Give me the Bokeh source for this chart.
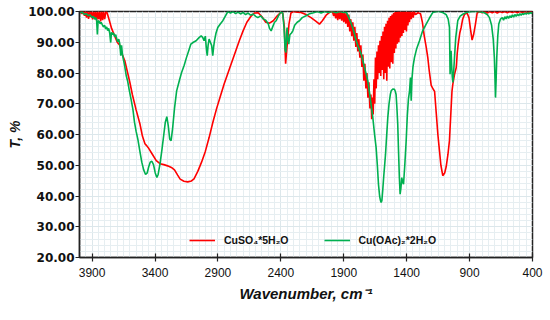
from bokeh.plotting import figure
from bokeh.models import Range1d, FixedTicker, SingleIntervalTicker, PrintfTickFormatter, Legend, LegendItem
from bokeh.embed import file_html
from bokeh.resources import INLINE

# ---- data ----
red_w = [4000, 3990, 3980, 3970, 3960, 3952, 3944, 3936, 3928, 3920, 3912, 3904, 3896, 3888, 3880, 3872,
         3864, 3856, 3848, 3840, 3832, 3824, 3816, 3808, 3800, 3790, 3780, 3765, 3745, 3720, 3700, 3680,
         3660, 3640, 3620, 3600, 3580, 3550, 3520, 3500, 3480, 3465, 3450, 3420, 3390, 3360, 3330, 3300,
         3270, 3245, 3220, 3200, 3170, 3140, 3110, 3090, 3060, 3030, 3000, 2970, 2940, 2910, 2880, 2850,
         2820, 2790, 2760, 2730, 2700, 2670, 2640, 2610, 2580, 2550, 2520, 2490, 2460, 2430, 2400, 2385,
         2372, 2362, 2352, 2345, 2335, 2320, 2300, 2270, 2240, 2200, 2160, 2120, 2093, 2070, 2040, 2010,
         1990, 1980, 1972, 1964, 1956, 1948, 1940, 1932, 1924, 1916, 1908, 1900, 1892, 1884, 1876, 1868,
         1860, 1852, 1844, 1836, 1828, 1820, 1812, 1804, 1796, 1788, 1780, 1772, 1764, 1756, 1748, 1740,
         1732, 1724, 1716, 1708, 1700, 1692, 1684, 1678, 1672, 1666, 1660, 1654, 1648, 1642, 1636, 1630,
         1624, 1618, 1612, 1606, 1600, 1594, 1588, 1582, 1576, 1570, 1564, 1558, 1552, 1546, 1540, 1534,
         1528, 1522, 1516, 1510, 1504, 1498, 1492, 1486, 1480, 1474, 1468, 1462, 1456, 1450, 1444, 1438,
         1432, 1426, 1420, 1414, 1408, 1402, 1396, 1390, 1384, 1378, 1372, 1364, 1356, 1348, 1340, 1330,
         1310, 1290, 1275, 1260, 1245, 1232, 1220, 1205, 1190, 1178, 1165, 1152, 1140, 1128, 1113, 1098,
         1086, 1072, 1060, 1050, 1040, 1033, 1020, 1006, 998, 990, 978, 967, 955, 940, 920, 905,
         892, 880, 868, 855, 840, 820, 800, 780, 760, 740, 720, 700, 680, 660, 640, 620,
         600, 580, 560, 540, 520, 500, 480, 460, 440, 420, 400]
red_t = [99.5, 100, 99.2, 100, 98.6, 100, 98.0, 100, 97.6, 100, 98.2, 100, 97.4, 100, 97.8, 100,
         97.0, 100, 97.5, 100, 96.8, 100, 97.2, 100, 97.5, 100, 99.5, 97.4, 94.5, 92.0, 90.0, 89.0,
         86.0, 84.0, 80.5, 77.0, 73.0, 68.0, 63.5, 59.5, 57.0, 56.3, 55.5, 53.5, 51.5, 50.5, 50.2, 49.8,
         49.3, 48.5, 46.8, 45.5, 44.8, 44.6, 44.9, 45.6, 48.0, 51.0, 54.5, 59.0, 64.0, 68.5, 72.5, 76.5,
         80.0, 83.5, 87.0, 90.5, 93.7, 96.5, 98.3, 99.5, 99.6, 98.3, 96.5, 96.2, 97.0, 98.5, 99.7, 99.5,
         95.0, 83.0, 88.0, 91.0, 96.0, 99.5, 100, 99.8, 99.7, 99.0, 98.0, 96.8, 95.9, 97.0, 98.8, 99.8,
         100, 98.5, 100, 97.8, 100, 97.2, 100, 97.5, 100, 97.0, 100, 96.5, 100, 96.0, 99.5, 95.0,
         99.0, 93.5, 97.5, 92.0, 96.5, 90.5, 95.0, 88.5, 93.0, 87.0, 91.0, 85.0, 89.0, 82.0, 86.0, 77.5,
         83.0, 75.0, 80.0, 72.0, 77.0, 68.5, 73.0, 65.0, 72.0, 66.5, 78.0, 70.0, 85.0, 75.0, 87.0, 78.0,
         89.0, 80.0, 90.5, 79.0, 92.0, 81.0, 93.5, 78.0, 95.0, 80.0, 96.0, 77.5, 97.0, 82.0, 98.0, 81.5,
         98.5, 83.5, 99.0, 83.0, 99.5, 86.5, 99.8, 88.0, 99.8, 89.5, 100, 90.0, 100, 91.5, 100, 92.0,
         100, 93.0, 100, 94.0, 100, 93.5, 100, 95.5, 100, 96.5, 100, 97.5, 100, 98.0, 100, 99.0,
         99.6, 99.3, 96.5, 92.0, 88.5, 85.0, 80.5, 76.0, 74.8, 74.0, 67.0, 60.0, 55.0, 50.0, 46.6, 47.5,
         49.5, 53.5, 58.0, 66.0, 74.0, 76.4, 79.5, 81.8, 86.5, 89.5, 93.0, 94.8, 97.5, 99.1, 99.5, 98.0,
         94.0, 90.7, 92.5, 95.5, 99.5, 100, 99.6, 100, 99.5, 100, 99.6, 100, 99.5, 100, 99.7, 100,
         99.6, 100, 99.7, 100, 99.6, 100, 99.7, 100, 99.6, 100, 99.8]

green_w = [4000, 3980, 3960, 3945, 3930, 3915, 3900, 3890, 3880, 3872, 3864, 3858, 3852, 3844, 3836, 3828,
           3820, 3810, 3800, 3792, 3784, 3776, 3768, 3760, 3752, 3746, 3738, 3730, 3720, 3712, 3704, 3696,
           3688, 3680, 3672, 3666, 3660, 3652, 3644, 3636, 3628, 3618, 3605, 3590, 3575, 3563, 3550, 3536,
           3520, 3505, 3490, 3475, 3462, 3450, 3438, 3425, 3412, 3398, 3385, 3375, 3360, 3345, 3330, 3318,
           3306, 3295, 3283, 3272, 3260, 3245, 3228, 3210, 3190, 3168, 3150, 3130, 3115, 3095, 3073, 3050,
           3033, 3020, 3010, 3000, 2992, 2985, 2978, 2970, 2960, 2950, 2941, 2934, 2927, 2915, 2901, 2880,
           2861, 2840, 2821, 2800, 2780, 2760, 2740, 2720, 2700, 2680, 2660, 2640, 2620, 2600, 2583, 2560,
           2540, 2520, 2500, 2490, 2477, 2465, 2450, 2437, 2420, 2400, 2385, 2375, 2366, 2360, 2354, 2350,
           2344, 2337, 2328, 2315, 2305, 2290, 2270, 2252, 2230, 2200, 2170, 2140, 2110, 2080, 2050, 2020,
           1990, 1960, 1930, 1900, 1880, 1860, 1840, 1820, 1801, 1780, 1760, 1748, 1730, 1709, 1690, 1669,
           1655, 1643, 1633, 1624, 1615, 1608, 1603, 1597, 1590, 1582, 1575, 1568, 1560, 1550, 1540, 1530,
           1523, 1510, 1497, 1490, 1484, 1478, 1471, 1465, 1458, 1452, 1446, 1439, 1432, 1425, 1415, 1404,
           1395, 1386, 1377, 1370, 1364, 1358, 1350, 1338, 1320, 1298, 1275, 1245, 1220, 1192, 1160, 1140,
           1110, 1086, 1070, 1060, 1057, 1055, 1051, 1047, 1043, 1038, 1033, 1027, 1020, 1010, 994, 975,
           954, 920, 880, 840, 800, 780, 760, 742, 725, 712, 703, 698, 694, 689, 684, 676,
           668, 655, 640, 630, 620, 610, 600, 590, 580, 570, 560, 550, 540, 530, 520, 510,
           500, 490, 480, 470, 460, 450, 440, 430, 420, 410, 400]
green_t = [99.6, 99.8, 99.0, 99.3, 98.6, 98.9, 98.0, 98.4, 97.5, 98.0, 97.2, 92.5, 97.0, 96.8, 96.0, 96.5,
           95.8, 95.0, 95.5, 94.3, 95.0, 93.8, 94.5, 93.0, 89.9, 93.2, 92.5, 93.0, 91.8, 92.5, 91.0, 90.2,
           91.0, 89.5, 85.6, 89.0, 86.5, 84.5, 83.0, 81.0, 79.0, 77.5, 74.5, 71.4, 68.0, 64.0, 61.0, 58.4,
           54.5, 51.0, 48.5, 47.0, 47.5, 49.5, 51.0, 51.3, 50.2, 47.5, 46.0, 47.0, 50.5, 55.0, 60.0, 64.0,
           65.8, 63.0, 58.5, 58.0, 62.0, 68.5, 74.2, 77.0, 80.0, 82.5, 85.0, 87.5, 89.4, 90.0, 90.5, 91.5,
           92.1, 91.5, 90.5, 92.0, 88.0, 85.6, 89.0, 91.0, 90.0, 89.0, 85.6, 88.5, 90.5, 93.0, 94.8, 96.0,
           97.0, 98.6, 100, 99.5, 100, 99.3, 99.8, 99.2, 99.7, 99.0, 99.5, 98.8, 99.2, 98.4, 98.0, 98.6,
           97.6, 97.2, 96.0, 94.5, 93.7, 95.0, 96.5, 97.0, 98.5, 99.8, 99.5, 95.0, 87.5, 86.7, 93.5, 94.8,
           91.0, 89.4, 92.5, 93.0, 93.7, 95.5, 96.5, 97.0, 98.0, 98.6, 99.3, 99.6, 100, 99.5, 100, 99.7,
           100, 99.6, 100, 99.7, 99.8, 98.0, 96.0, 93.5, 90.5, 88.0, 86.0, 84.0, 81.0, 77.5, 72.0, 65.5,
           60.0, 55.8, 50.0, 43.8, 40.0, 38.5, 37.9, 38.5, 42.0, 46.5, 50.0, 53.6, 59.0, 65.5, 70.0, 73.0,
           74.2, 74.8, 74.7, 74.0, 73.0, 69.0, 63.4, 55.0, 46.0, 40.6, 42.5, 46.0, 44.5, 43.8, 50.0, 57.9,
           66.0, 71.5, 74.2, 78.5, 71.0, 78.0, 82.0, 85.0, 88.0, 90.5, 93.5, 95.9, 97.8, 99.7, 100, 100,
           99.6, 99.0, 97.5, 94.8, 86.0, 79.6, 83.0, 87.2, 83.0, 79.0, 76.9, 80.0, 85.0, 91.5, 97.0, 98.5,
           99.1, 99.8, 100, 100, 99.8, 99.5, 99.0, 98.0, 95.5, 91.0, 85.0, 78.0, 72.0, 78.0, 85.0, 92.0,
           95.9, 97.5, 98.0, 97.2, 98.3, 97.6, 98.5, 97.8, 98.6, 98.0, 98.9, 98.2, 99.0, 98.4, 99.1, 98.6,
           99.3, 98.8, 99.4, 99.0, 99.5, 99.1, 99.6, 99.2, 99.7, 99.4, 99.7]

x_ticks = [3900, 3400, 2900, 2400, 1900, 1400, 900, 400]
labels = ["CuSO\u2084*5H\u2082O", "Cu(OAc)\u2082*2H\u2082O"]

RED = "#FF0000"
GREEN = "#00B050"

p = figure(width=548, height=318, output_backend="svg", toolbar_location=None,
           x_range=Range1d(4000, 400), y_range=Range1d(20, 100),
           min_border_left=79, min_border_right=16, min_border_top=11, min_border_bottom=61)
p.background_fill_color = "#FFFFFF"
p.border_fill_color = "#FFFFFF"
p.outline_line_color = "#222222"
p.outline_line_width = 1.5

p.xaxis.ticker = FixedTicker(ticks=x_ticks, minor_ticks=list(range(400, 4001, 50)))
p.yaxis.ticker = SingleIntervalTicker(interval=10, num_minor_ticks=5)
p.yaxis.formatter = PrintfTickFormatter(format="%.2f")

for g in (p.xgrid, p.ygrid):
    g.grid_line_color = "#DCE7EB"
    g.grid_line_width = 1
    g.minor_grid_line_color = "#E6EEF1"
    g.minor_grid_line_width = 1

for ax in (p.xaxis, p.yaxis):
    ax.axis_line_color = "#222222"
    ax.axis_line_width = 1.5
    ax.major_tick_line_color = "#222222"
    ax.major_tick_line_width = 1.2
    ax.minor_tick_line_color = None
    ax.axis_label_text_font = "Liberation Sans"
    ax.axis_label_text_font_style = "bold italic"
    ax.axis_label_text_color = "#111111"

p.xaxis.major_tick_in = 4
p.xaxis.major_tick_out = 4
p.xaxis.major_label_text_font = "Liberation Sans"
p.xaxis.major_label_text_font_size = "12px"
p.xaxis.major_label_text_color = "#111111"
p.xaxis.major_label_standoff = 6
p.xaxis.axis_label = "Wavenumber, cm\u207b\u00b9"
p.xaxis.axis_label_text_font_size = "15px"
p.xaxis.axis_label_standoff = 5

p.yaxis.major_tick_in = 0
p.yaxis.major_tick_out = 4
p.yaxis.major_label_text_font = "DejaVu Sans"
p.yaxis.major_label_text_font_style = "bold"
p.yaxis.major_label_text_font_size = "12px"
p.yaxis.major_label_text_color = "#111111"
p.yaxis.major_label_standoff = 1
p.yaxis.axis_label = "T, %"
p.yaxis.axis_label_text_font_size = "14px"
p.yaxis.axis_label_standoff = 2

r1 = p.line(red_w, red_t, line_color=RED, line_width=1.6)
r2 = p.line(green_w, green_t, line_color=GREEN, line_width=1.6)

legend = Legend(items=[LegendItem(label=labels[0], renderers=[r1]),
                       LegendItem(label=labels[1], renderers=[r2])],
                orientation="horizontal", location=(110, 7))
legend.background_fill_alpha = 0
legend.border_line_alpha = 0
legend.padding = 0
legend.margin = 0
legend.spacing = 35
legend.glyph_width = 26
legend.glyph_height = 20
legend.label_standoff = 9
legend.label_text_font = "Liberation Sans"
legend.label_text_font_style = "bold"
legend.label_text_font_size = "10.5px"
legend.label_text_color = "#111111"
p.add_layout(legend, "center")

open("out.html", "w").write(file_html(p, INLINE))
